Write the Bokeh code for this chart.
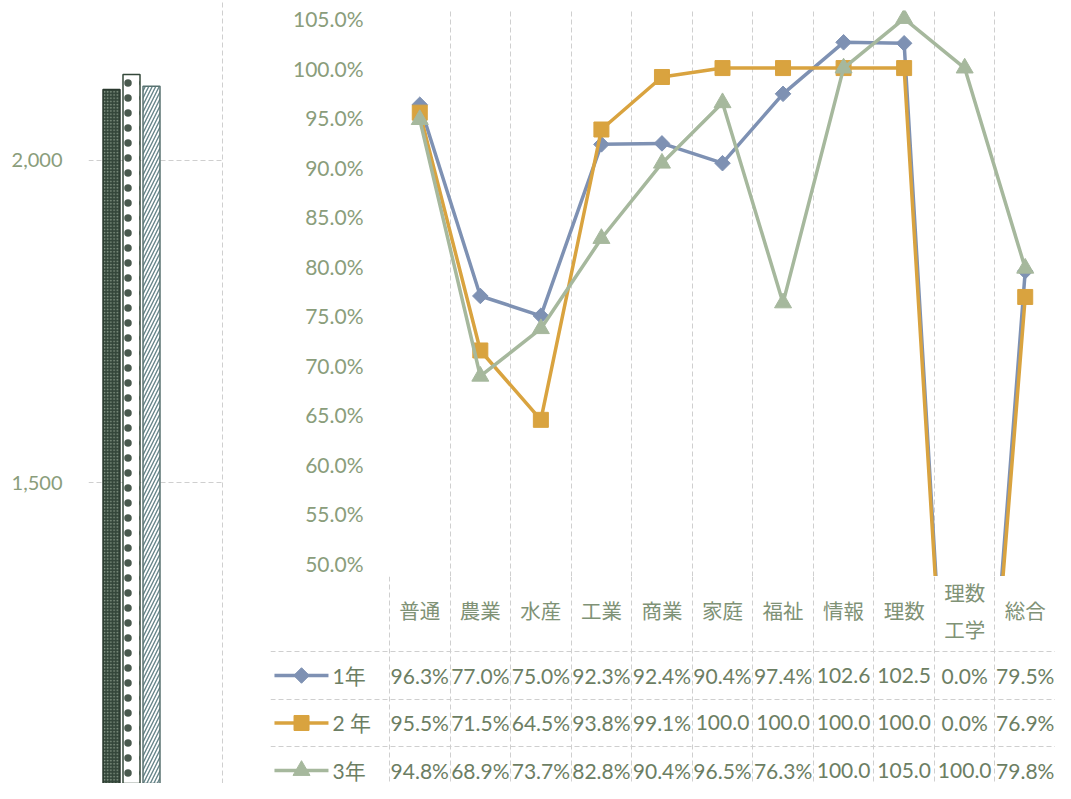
from bokeh.plotting import figure
from bokeh.layouts import row, column
from bokeh.models import Range1d, FixedTicker, NumeralTickFormatter, PrintfTickFormatter
from bokeh.core.properties import value
from bokeh.embed import file_html
from bokeh.resources import INLINE

# ---------------- data ----------------
categories = ["普通", "農業", "水産", "工業", "商業", "家庭", "福祉", "情報", "理数", "理数工学", "総合"]
category_display = ["普通", "農業", "水産", "工業", "商業", "家庭", "福祉", "情報", "理数", "理数\n工学", "総合"]
series_names = ["1年", "2 年", "3年"]
rate_1 = [96.3, 77.0, 75.0, 92.3, 92.4, 90.4, 97.4, 102.6, 102.5, 0.0, 79.5]
rate_2 = [95.5, 71.5, 64.5, 93.8, 99.1, 100.0, 100.0, 100.0, 100.0, 0.0, 76.9]
rate_3 = [94.8, 68.9, 73.7, 82.8, 90.4, 96.5, 76.3, 100.0, 105.0, 100.0, 79.8]
pct_ticks = [50, 55, 60, 65, 70, 75, 80, 85, 90, 95, 100, 105]

bar_values = [2110, 2133, 2115]
count_ticks = [1000, 1500, 2000]

# ---------------- styles ----------------
AXIS_TXT = "#8a9d7b"
CAT_TXT = "#7f9276"
TAB_TXT = "#6c7e63"
GRID = "#cfcfcf"
LAT = "Lato, 'Noto Sans CJK JP'"
CJK = "'Noto Sans CJK JP'"
series_colors = ["#7e91b3", "#d9a33f", "#a6b89d"]
series_markers = [("square", 11, 0.785398), ("square", 15, 0.0), ("triangle", 17, 0.0)]
X_LEFT, X_RIGHT = -2.4655, 10.5   # category-index units, legend column on the left

# ---------------- left bar chart ----------------
pb = figure(width=270, height=783, x_range=Range1d(-1.15, 5.6), y_range=Range1d(1033, 2248),
            output_backend="svg", toolbar_location=None,
            min_border_left=88, min_border_right=47, min_border_top=0, min_border_bottom=0)
pb.outline_line_color = None
pb.xaxis.visible = False
pb.yaxis.ticker = FixedTicker(ticks=count_ticks)
pb.yaxis.formatter = NumeralTickFormatter(format="0,0")
pb.yaxis.axis_line_color = None
pb.yaxis.major_tick_line_color = None
pb.yaxis.minor_tick_line_color = None
pb.yaxis.major_label_standoff = 20
pb.yaxis.major_label_text_color = AXIS_TXT
pb.yaxis.major_label_text_font = LAT
pb.yaxis.major_label_text_font_size = "20px"
pb.ygrid.ticker = FixedTicker(ticks=count_ticks)
pb.ygrid.grid_line_color = GRID
pb.ygrid.grid_line_dash = "5 3"
pb.xgrid.ticker = FixedTicker(ticks=[5.55])
pb.xgrid.grid_line_color = GRID
pb.xgrid.grid_line_dash = "5 3"

bar_styles = [
    dict(fill_color="#34463a", line_color="#2a392e", hatch_pattern=".", hatch_color="#8c9d8c",
         hatch_scale=3.2, hatch_weight=1.0),
    dict(fill_color="white", line_color="#34483a", hatch_pattern=".", hatch_color="#4a5a4e",
         hatch_scale=15.0, hatch_weight=1.0),
    dict(fill_color="white", line_color="#587270", hatch_pattern="/", hatch_color="#67858a",
         hatch_scale=7.0, hatch_weight=1.4),
]
for i, (v, st) in enumerate(zip(bar_values, bar_styles)):
    pb.vbar(x=[i], top=[v], bottom=0, width=0.85, line_width=1.5, **st)

# ---------------- line chart ----------------
idx = list(range(len(categories)))
pl = figure(width=785, height=576, x_range=Range1d(X_LEFT, X_RIGHT),
            y_range=Range1d(48.69, 105.81), output_backend="svg", toolbar_location=None,
            min_border_left=0, min_border_right=0, min_border_top=10, min_border_bottom=0)
pl.outline_line_color = None
pl.xaxis.visible = False
pl.yaxis.fixed_location = -0.5
pl.yaxis.ticker = FixedTicker(ticks=pct_ticks)
pl.yaxis.formatter = PrintfTickFormatter(format="%.1f%%")
pl.yaxis.axis_line_color = None
pl.yaxis.major_tick_line_color = None
pl.yaxis.minor_tick_line_color = None
pl.yaxis.major_label_standoff = 20
pl.yaxis.major_label_text_color = AXIS_TXT
pl.yaxis.major_label_text_font = LAT
pl.yaxis.major_label_text_font_size = "21px"
pl.ygrid.grid_line_color = None
pl.xgrid.ticker = FixedTicker(ticks=[i + 0.5 for i in idx])
pl.xgrid.grid_line_color = GRID
pl.xgrid.grid_line_dash = "5 3"

for vals, col, (mk, sz, ang) in zip([rate_1, rate_2, rate_3], series_colors, series_markers):
    pl.line(x=idx, y=vals, line_color=col, line_width=3.5)
    pl.scatter(x=idx, y=vals, marker=mk, size=sz, angle=ang, fill_color=col, line_color=col)

# ---------------- data table ----------------
pt = figure(width=785, height=207, x_range=Range1d(X_LEFT, X_RIGHT), y_range=Range1d(2.274, -2.084),
            output_backend="svg", toolbar_location=None,
            min_border_left=0, min_border_right=0, min_border_top=0, min_border_bottom=0)
pt.outline_line_color = None
pt.axis.visible = False
pt.xgrid.ticker = FixedTicker(ticks=[i - 0.5 for i in range(len(categories) + 1)])
pt.ygrid.ticker = FixedTicker(ticks=[-0.5, 0.5, 1.5, 2.5])
pt.grid.grid_line_color = GRID
pt.grid.grid_line_dash = "5 3"

pt.text(x=idx, y=[-1.37] * len(idx), text=category_display, text_align="center",
        text_baseline="middle", text_line_height=1.24, text_color=CAT_TXT,
        text_font=value(CJK), text_font_size="20.5px")


def fmt(v):
    return f"{v:.1f}" if v >= 100 else f"{v:.1f}%"


for r, (vals, col, (mk, sz, ang), name) in enumerate(
        zip([rate_1, rate_2, rate_3], series_colors, series_markers, series_names)):
    pt.text(x=idx, y=[r] * len(idx), text=[fmt(v) for v in vals], text_align="center",
            text_baseline="middle", text_color=TAB_TXT, text_font=value(LAT), text_font_size="21px")
    pt.segment(x0=[-2.40], x1=[-1.508], y0=[r], y1=[r], line_color=col, line_width=3.5)
    pt.scatter(x=[-1.953], y=[r], marker=mk, size=sz, angle=ang, fill_color=col, line_color=col)
    pt.text(x=[-1.441], y=[r], text=[name], text_align="left", text_baseline="middle",
            text_color=TAB_TXT, text_font=value(LAT), text_font_size="21px")

layout = row(pb, column(pl, pt))
open("out.html", "w").write(file_html(layout, INLINE))
